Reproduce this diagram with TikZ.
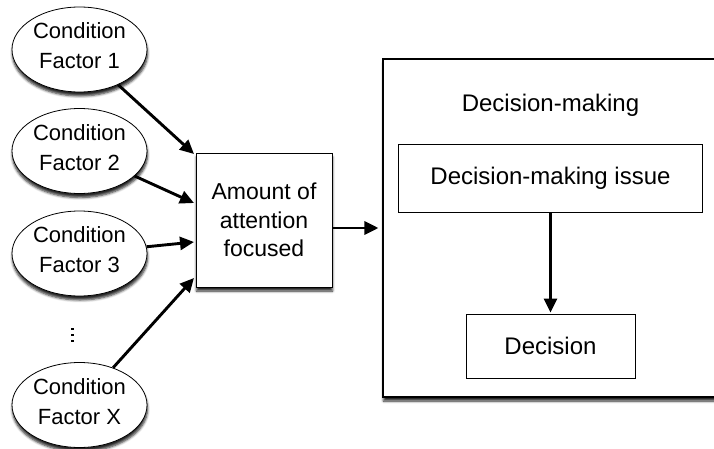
\documentclass[tikz,border=0pt]{standalone}
\usepackage{fontspec}
\setmainfont{Liberation Sans}
\usetikzlibrary{arrows.meta,shapes.geometric,shadows.blur}
\begin{document}
\begin{tikzpicture}[x=1pt,y=-1pt,
  shad/.style={blur shadow={shadow xshift=0.5pt,shadow yshift=-4pt,shadow blur steps=5,shadow blur radius=2.5pt,shadow opacity=85}},
  cond/.style={ellipse, draw, line width=0.8pt, fill=white, minimum width=135pt, minimum height=85pt,
    inner sep=0pt, text depth=7pt, align=center, font=\fontsize{22}{30}\selectfont, shad},
  boxa/.style={rectangle, draw, line width=0.8pt, fill=white, align=center, inner sep=0pt},
  arr/.style={line width=2.9pt, -{Triangle[length=14pt,width=13pt]}},
  lbl/.style={font=\fontsize{23}{28.5}\selectfont},
  lblr/.style={font=\fontsize{24}{28.5}\selectfont},
  dot/.style={fill=black, inner sep=0pt, minimum size=2.6pt, rectangle}
]
\useasboundingbox (0,0) rectangle (714,449);
\clip (0,0) rectangle (714,449);

% condition factors
\node[cond] (e1) at (79.5,49.5) {Condition\\Factor 1};
\node[cond] (e2) at (79.5,151) {Condition\\Factor 2};
\node[cond] (e3) at (79.5,253.5) {Condition\\Factor 3};
\node[cond] (ex) at (79.5,405) {Condition\\Factor X};
\node[dot] (d1) at (72.5,329) {};
\node[dot] (d2) at (72.5,335) {};
\node[dot] (d3) at (72.5,341) {};

% attention box
\node[boxa, shad, minimum width=136pt, minimum height=134pt, lbl] (att) at (264,220)
  {Amount of\\attention\\focused};

% decision-making big box
\node[boxa, shad, line width=1.1pt, minimum width=345pt, minimum height=338pt] (big) at (555.5,228) {};
\node[lblr] (dmlabel) at (550.5,105) {Decision-making};
\node[boxa, lblr, minimum width=304pt, minimum height=68pt] (issue) at (550.5,178) {Decision-making issue};
\node[boxa, lblr, minimum width=169pt, minimum height=64pt] (dec) at (550.5,346) {Decision};

% arrow end points on the attention box
\coordinate (p1) at (194,154);
\coordinate (p2) at (194,203);
\coordinate (p3) at (194,242);
\coordinate (p4) at (194,278);

\draw[arr] (e1) -- (p1);
\draw[arr] (e2) -- (p2);
\draw[arr] (e3) -- (p3);
\draw[arr] (ex) -- (p4);
\draw[arr, shorten >=4pt] ([yshift=-8pt]att.east) -- ([yshift=-8pt]att.east -| big.west);
\draw[arr, shorten >=1pt] (issue) -- (dec);
\end{tikzpicture}
\end{document}
